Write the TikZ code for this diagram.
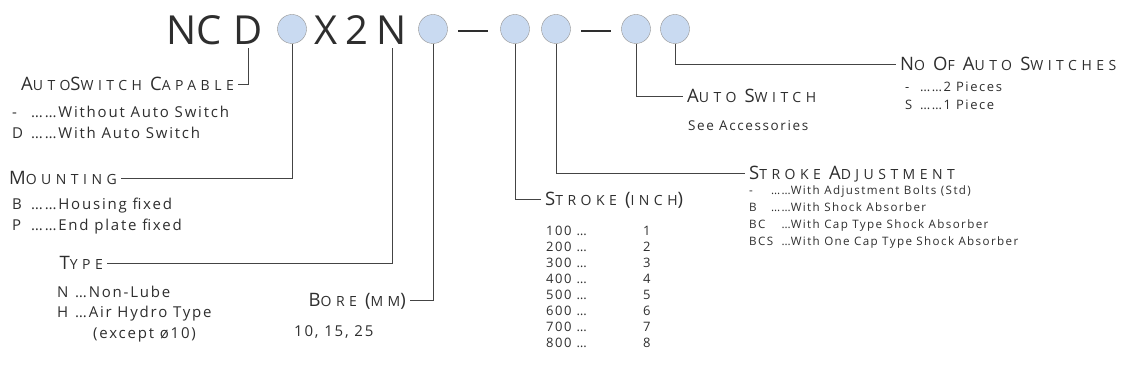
\documentclass[tikz,border=0pt]{standalone}
\usepackage{fontspec}
\setmainfont{Open Sans}
\usetikzlibrary{positioning}
\newfontfamily\headfont[LetterSpace=32]{Open Sans}
\newfontfamily\itemfont[LetterSpace=12]{Open Sans}
\definecolor{ink}{HTML}{2E2E2E}
\definecolor{rule}{HTML}{444444}
\definecolor{pickfill}{HTML}{C9DAF1}
% first letter of a small-caps heading
\newcommand{\Bg}[1]{{\fontsize{18.5}{18.5}\selectfont #1}}

\begin{document}
\begin{tikzpicture}[x=1pt,y=-1pt,
  code/.style={font=\fontsize{40}{40}\selectfont, text=ink, inner sep=0pt, anchor=base},
  pick/.style={circle, draw=gray!85, fill=pickfill, minimum size=29pt, inner sep=0pt},
  head/.style={inner xsep=4pt, inner ysep=0pt, text=ink, text height=13pt, text depth=0pt,
    font=\headfont\fontsize{14}{14}\selectfont},
  opts/.style={anchor=base west, inner sep=0pt, text=ink, font=\itemfont\fontsize{15}{20.5}\selectfont},
  optsmall/.style={opts, font=\itemfont\fontsize{11.6}{16.7}\selectfont},
  lead/.style={draw=rule, line width=0.8pt}]
\useasboundingbox (0,0) rectangle (1139,387);

% model code
\node[code, anchor=base east] (nc) at (222,45) {NC};
\node[code] (D) at (248,45) {D};
\node[pick] (c1) at (292,29) {};
\node[code] (X) at (326,45) {X};
\node[code] (two) at (357,45) {2};
\node[code] (N) at (392,45) {N};
\node[pick] (c2) at (433,29) {};
\draw[ink, line width=2.5pt] (458,31) -- (488,31);
\node[pick] (c3) at (515,29) {};
\node[pick] (c4) at (556,29) {};
\draw[ink, line width=2.5pt] (581,31) -- (611,31);
\node[pick] (c5) at (636,29) {};
\node[pick] (c6) at (675,29) {};

% headings
\node[head, anchor=east] (asc) at (238,84) {\Bg{A}UTO\Bg{S}WITCH \Bg{C}APABLE};
\node[head, anchor=east] (mount) at (121,178) {\Bg{M}OUNTING};
\node[head, anchor=east] (type) at (107,263) {\Bg{T}YPE};
\node[head, anchor=east] (bore) at (410,300) {\Bg{B}ORE \Bg{(}MM\Bg{)}};
\node[head, anchor=west] (stroke) at (541,199) {\Bg{S}TROKE \Bg{(}INCH\Bg{)}};
\node[head, anchor=west] (sadj) at (745,173) {\Bg{S}TROKE \Bg{A}DJUSTMENT};
\node[head, anchor=west] (asw) at (683,96) {\Bg{A}UTO \Bg{S}WITCH};
\node[head, anchor=west] (nasw) at (896,64) {\Bg{N}O \Bg{O}F \Bg{A}UTO \Bg{S}WITCHES};

% options
\node[opts] (ascopt) at (12,118) {\begin{tabular}[t]{@{}p{19pt}@{}l@{}}
  - & ……Without Auto Switch\\ D & ……With Auto Switch\end{tabular}};
\node[opts] (mountopt) at (12,210) {\begin{tabular}[t]{@{}p{19pt}@{}l@{}}
  B & ……Housing fixed\\ P & ……End plate fixed\end{tabular}};
\node[opts] (typeopt) at (57,297) {\begin{tabular}[t]{@{}p{18pt}@{}l@{}}
  N & …Non-Lube\\ H & …Air Hydro Type\\ & \hspace{18pt}(except ø10)\end{tabular}};
\node[opts] (boreopt) at (294,336) {10, 15, 25};
\node[optsmall, font=\itemfont\fontsize{13}{15.9}\selectfont] (strokeopt) at (546,236) {\begin{tabular}[t]{@{}p{97pt}@{}r@{}}
  100 … & 1\\ 200 … & 2\\ 300 … & 3\\ 400 … & 4\\
  500 … & 5\\ 600 … & 6\\ 700 … & 7\\ 800 … & 8\end{tabular}};
\node[optsmall] (sadjopt) at (749,195) {\begin{tabular}[t]{@{}p{22pt}@{}r@{}l@{}}
  - & …… & With Adjustment Bolts (Std)\\ B & …… & With Shock Absorber\\
  BC & … & With Cap Type Shock Absorber\\ BCS & … & With One Cap Type Shock Absorber\end{tabular}};
\node[optsmall, font=\itemfont\fontsize{13.5}{18}\selectfont] (aswopt) at (688,131) {See Accessories};
\node[optsmall, font=\itemfont\fontsize{13}{18}\selectfont] (naswopt) at (905,92) {\begin{tabular}[t]{@{}p{15pt}@{}l@{}}
  - & ……2 Pieces\\ S & ……1 Piece\end{tabular}};

% leaders
\draw[lead, shorten <=3pt] (D.south) |- (asc.east);
\draw[lead] (c1.south) |- (mount.east);
\draw[lead, shorten <=3pt] (N.south) |- (type.east);
\draw[lead] (c2.south) |- (bore.east);
\draw[lead] (c3.south) |- (stroke.west);
\draw[lead] (c4.south) |- (sadj.west);
\draw[lead] (c5.south) |- (asw.west);
\draw[lead] (c6.south) |- (nasw.west);
\end{tikzpicture}
\end{document}
